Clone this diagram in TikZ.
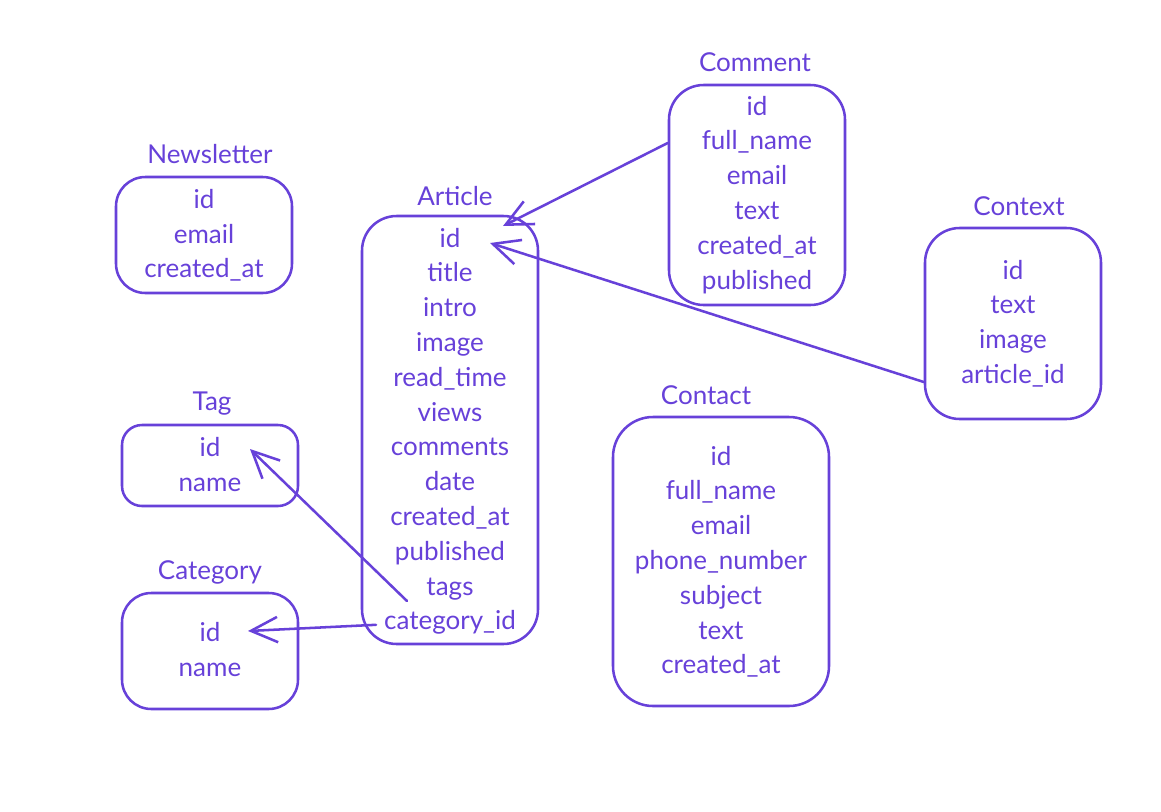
\documentclass[tikz,border=0pt]{standalone}
\usepackage{fontspec}
\setmainfont{Lato}
\usetikzlibrary{arrows.meta,calc}
\definecolor{vio}{HTML}{6741D9}
\begin{document}
\begin{tikzpicture}[x=0.75pt,y=-0.75pt,
  tbl/.style={draw=vio,line width=1.9pt,rounded corners=#1,inner sep=0pt},
  tbl/.default=22pt,
  ttl/.style={text=vio,font=\fontsize{19.5}{22}\selectfont,inner sep=0pt,anchor=base},
  row/.style={text=vio,font=\fontsize{19.5}{22}\selectfont,inner sep=0pt,anchor=base},
  link/.style={draw=vio,line width=1.9pt,line cap=round,line join=round,
    -{Straight Barb[length=20pt,width=19pt,line width=1.9pt]}}]
\useasboundingbox (0,0) rectangle (1161,811);
% Newsletter
\node[tbl,minimum width=176*0.75pt,minimum height=116*0.75pt] (nl) at (204,235) {};
\node[ttl] (nlt) at (210,163) {Newsletter};
\node[row] (nl1) at (204,208) {id};
\node[row] (nl2) at (204,243) {email};
\node[row] (nl3) at (204,277) {created\_at};
% Article
\node[tbl=26pt,minimum width=176*0.75pt,minimum height=428*0.75pt] (ar) at (450,430) {};
\node[ttl] (art) at (455,205) {Article};
\foreach \t [count=\i] in {id,title,intro,image,read\_time,views,comments,date,created\_at,published,tags,category\_id}{
  \node[row] (ar\i) at (450,{247+34.8*(\i-1)}) {\t};
}
% Comment
\node[tbl=26pt,minimum width=176*0.75pt,minimum height=220*0.75pt] (cm) at (757,195) {};
\node[ttl] (cmt) at (755,71) {Comment};
\foreach \t [count=\i] in {id,full\_name,email,text,created\_at,published}{
  \node[row] (cm\i) at (757,{115+34.8*(\i-1)}) {\t};
}
% Context
\node[tbl=26pt,minimum width=176*0.75pt,minimum height=191*0.75pt] (cx) at (1013,323.5) {};
\node[ttl] (cxt) at (1019,215) {Context};
\foreach \t [count=\i] in {id,text,image,article\_id}{
  \node[row] (cx\i) at (1013,{279+34.8*(\i-1)}) {\t};
}
% Tag
\node[tbl=15pt,minimum width=176*0.75pt,minimum height=81*0.75pt] (tg) at (210,465.5) {};
\node[ttl] (tgt) at (212,410) {Tag};
\node[row] (tg1) at (210,456) {id};
\node[row] (tg2) at (210,491) {name};
% Category
\node[tbl,minimum width=176*0.75pt,minimum height=116*0.75pt] (ca) at (210,651) {};
\node[ttl] (cat) at (210,579) {Category};
\node[row] (ca1) at (210,641) {id};
\node[row] (ca2) at (210,676) {name};
% Contact
\node[tbl=30pt,minimum width=216*0.75pt,minimum height=289*0.75pt] (ct) at (721,561.5) {};
\node[ttl] (ctt) at (706,404) {Contact};
\foreach \t [count=\i] in {id,full\_name,email,phone\_number,subject,text,created\_at}{
  \node[row] (ct\i) at (721,{465+34.8*(\i-1)}) {\t};
}
% connectors
\draw[link] (cm.west |- 0,143) -- ($(ar1.base)+(53,-21)$);
\draw[link] (cx.west |- 0,382) -- ($(ar1.base)+(40,-4)$);
\draw[link] ($(ar11.base)+(-43,6)$) -- ($(tg1.base)+(40,-7)$);
\draw[link] ($(ar12.base)+(-74,-5)$) -- ($(ca1.base)+(38,-10)$);
\end{tikzpicture}
\end{document}
